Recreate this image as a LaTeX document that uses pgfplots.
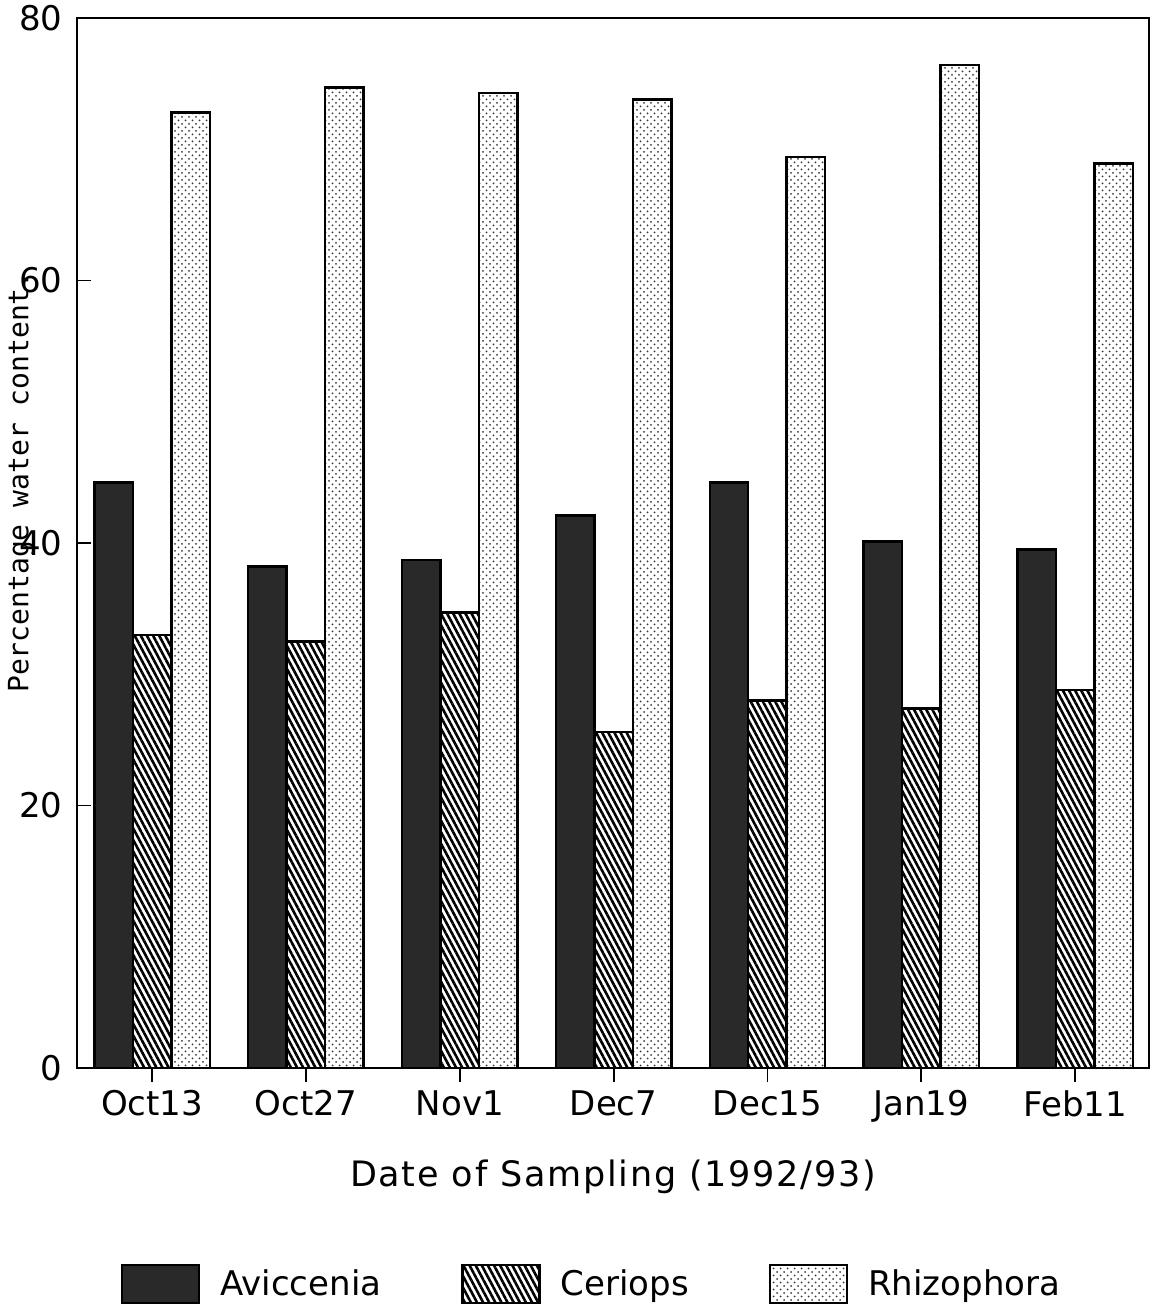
\documentclass[border=0pt]{standalone}
\usepackage{pgfplots}
\pgfplotsset{compat=1.18}
\usepackage{fontspec}
\setmainfont{DejaVu Sans}
\newfontfamily\labelmono{DejaVu Sans Mono}
\newfontfamily\spaced[LetterSpace=5]{DejaVu Sans}
\usetikzlibrary{patterns,patterns.meta}

% fine staggered dot screen for the Rhizophora bars
\pgfdeclarepatternformonly{rdots}{\pgfqpoint{-1pt}{-1pt}}{\pgfqpoint{4.5pt}{4.5pt}}{\pgfqpoint{3.5pt}{3.5pt}}{%
  \pgfpathcircle{\pgfqpoint{0pt}{0pt}}{0.5pt}%
  \pgfpathcircle{\pgfqpoint{1.75pt}{1.75pt}}{0.5pt}%
  \pgfusepath{fill}%
}

% legend swatch: a plain outlined box
\pgfplotsset{boxlegend/.style={legend image code/.code={%
  \draw[##1, line width=1.2pt] (0pt,-9.5pt) rectangle (38.5pt,9.5pt);}}}

\pgfplotstableread{
x  avi   cer   rhi
0  44.6  33.0  72.8
1  38.2  32.5  74.7
2  38.7  34.7  74.3
3  42.1  25.6  73.8
4  44.6  28.0  69.4
5  40.1  27.4  76.4
6  39.5  28.8  68.9
}\watertable

\begin{document}
\begin{tikzpicture}
\path[use as bounding box] (-38.5pt,-123pt) rectangle (539pt,534pt);
\begin{axis}[
  at={(0,0)}, anchor=south west,
  width=536pt, height=525pt, scale only axis,
  xmin=-0.488, xmax=6.48,
  ymin=0, ymax=80,
  ytick={0,20,40,60,80},
  xtick={0,...,6},
  xticklabels={Oct13,Oct27,Nov1,Dec7,Dec15,Jan19,Feb11},
  tick align=inside,
  xtick pos=bottom, ytick pos=left,
  major tick length=7pt,
  tick style={line width=0.9pt, black},
  axis line style={line width=1pt},
  axis on top,
  /pgf/number format/assume math mode=true,
  ticklabel style={font=\fontsize{17}{20}\selectfont},
  yticklabel style={inner sep=0pt, anchor=east, xshift=-7pt},
  xticklabel style={inner sep=0pt, anchor=north, yshift=-4pt},
  xlabel={Date of Sampling (1992/93)},
  xlabel style={at={(axis description cs:0.5,-0.104)}, anchor=center, font=\spaced\fontsize{17.5}{20}\selectfont},
  ylabel={Percentage water content.},
  ylabel style={at={(axis description cs:-0.052,0.558)}, anchor=center, rotate=0, font=\labelmono\fontsize{14}{16}\selectfont},
  legend columns=3,
  legend style={draw=none, fill=none, at={(axis description cs:0.041,-0.2057)}, anchor=west,
    inner sep=0pt, outer sep=0pt, font=\fontsize{17}{20}\selectfont,
    nodes={inner sep=0pt},
    /tikz/every odd column/.style={column sep=10pt},
    /tikz/every even column/.style={column sep=40pt}},
  ybar, bar width=0.25,
  boxlegend,
]
\addplot[boxlegend, draw=black, line width=1.2pt, fill=black!84, bar shift=-0.25] table[x=x, y=avi] {\watertable};
\addplot[boxlegend, draw=black, line width=1.2pt, pattern={Lines[angle=-62, distance=2.7pt, line width=1.3pt]}, bar shift=0] table[x=x, y=cer] {\watertable};
\addplot[boxlegend, draw=black, line width=1.2pt, pattern=rdots, pattern color=black!78, bar shift=0.25] table[x=x, y=rhi] {\watertable};
\legend{Aviccenia, Ceriops, Rhizophora}
\end{axis}
\end{tikzpicture}
\end{document}
